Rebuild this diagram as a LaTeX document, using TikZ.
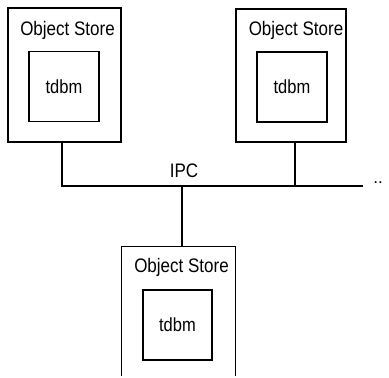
\documentclass[tikz,border=0pt]{standalone}
\usepackage{fontspec}
\setmainfont{Liberation Sans}
\usepackage{tikz}

\tikzset{
  storebox/.style={draw,line width=1.3pt,inner sep=0pt,minimum width=113pt,minimum height=134pt},
  dbbox/.style={draw,line width=1.3pt,inner sep=0pt,minimum width=70pt,minimum height=70pt,font=\fontsize{16.5}{18}\selectfont},
  title/.style={inner sep=0pt,font=\fontsize{17}{19}\selectfont},
  bus/.style={line width=1.3pt}
}

\begin{document}
\begin{tikzpicture}[x=1pt,y=-1pt]
        \useasboundingbox (0,0) rectangle (389,378);
        % Top left
        \node[storebox] (store1) at (64.5,75) {};
        \node[title] (name1) at (67.5,30) {\scalebox{1}[1.15]{Object Store}};
        \node[dbbox] (db1) at (64,86.5) {\scalebox{1}[1.15]{tdbm}};
        % Top right
        \node[storebox,minimum width=110pt,minimum height=133pt] (store2) at (291,75.5) {};
        \node[title] (name2) at (296,30) {\scalebox{1}[1.15]{Object Store}};
        \node[dbbox] (db2) at (292,87) {\scalebox{1}[1.15]{tdbm}};
        % Bottom, cut off by the page
        \node[inner sep=0pt,minimum width=113pt,minimum height=129pt] (store3) at (178.5,311.5) {};
        \draw[line width=1.3pt] (store3.south west) |- (store3.north east) -- (store3.south east);
        \node[title] (name3) at (181.5,267) {\scalebox{1}[1.15]{Object Store}};
        \node[dbbox,minimum width=69pt] (db3) at (177.5,325) {\scalebox{1}[1.15]{tdbm}};
        % Bus
        \coordinate (busW) at (62,186);
        \coordinate (busE) at (363,186);
        \coordinate (tap2) at (295,186);
        \coordinate (tap3) at (182,186);
        \node[title] (ipc) at (184,171) {\scalebox{1}[1.15]{IPC}};
        \node[title] (more) at (378,183) {..};
        % Edges
        \draw[bus] (store1.south -| busW) -- (busW) -- (busE);
        \draw[bus] (store2.south -| tap2) -- (tap2);
        \draw[bus] (tap3) -- (tap3 |- store3.north);
    \end{tikzpicture}
\end{document}
